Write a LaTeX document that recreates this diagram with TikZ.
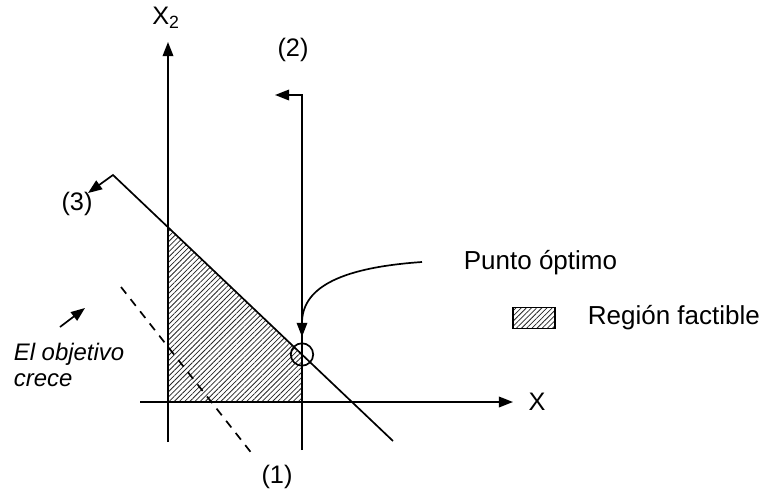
\documentclass[tikz,border=0pt]{standalone}
\usepackage{fontspec}
\setmainfont{Liberation Sans}
\usetikzlibrary{arrows.meta,patterns.meta,calc}

\begin{document}
\begin{tikzpicture}[x=0.025cm, y=-0.025cm, line width=1.2pt,
		>={Triangle[length=10pt,width=7.5pt]},
		lbl/.style={font=\fontsize{18}{21}\selectfont, inner sep=0pt},
		txt/.style={font=\fontsize{18.5}{22}\selectfont, inner sep=0pt},
		hatch/.style={pattern={Lines[angle=45,distance=2.6pt,line width=0.55pt]},
			pattern color=black!85}]
	\useasboundingbox (0,0) rectangle (763,493);

	% --- Region factible ---
	\fill[hatch] (168,227.3) -- (302,354.5) -- (302,402) -- (168,402) -- cycle;

	% --- Ejes ---
	\coordinate (xL) at (140,402);
	\coordinate (xR) at (513,402);
	\coordinate (yB) at (168,442);
	\coordinate (yT) at (168,42);
	\draw[->] (xL) -- (xR);
	\draw[->] (yB) -- (yT);
	\node[lbl] (xlab) at (537,402) {X};
	\node[lbl] (ylab) at (166,18) {X\textsubscript{2}};

	% --- Restriccion (2) ---
	\coordinate (r2b) at (302,450);
	\coordinate (r2t) at (302,95);
	\coordinate (r2a) at (275,95);
	\draw[->] (r2b) -- (r2t) -- (r2a);
	\node[lbl] (lab2) at (293,50) {(2)};

	% --- Restriccion (3) ---
	\coordinate (r3b) at (393,441);
	\coordinate (r3t) at (113,175);
	\coordinate (r3a) at (88,193);
	\draw[->] (r3b) -- (r3t) -- (r3a);
	\node[lbl] (lab3) at (77,204) {(3)};

	% --- Funcion objetivo (1) ---
	\coordinate (f1t) at (121,287);
	\coordinate (f1b) at (253,455);
	\draw[dash pattern=on 6pt off 5pt] (f1t) -- (f1b);
	\node[lbl] (lab1) at (277,477) {(1)};

	% --- Punto optimo ---
	\node[draw, circle, minimum size=0.56cm, inner sep=0pt] (opt) at (302,354.5) {};
	\node[txt, anchor=west] (punto) at (463,263) {Punto óptimo};
	\coordinate (c0) at (422,262);
	\draw[->, shorten >=4pt] (c0) .. controls (335,268) and (302,290) .. (opt.north);

	% --- Leyenda ---
	\node[draw, hatch, minimum width=1.05cm, minimum height=0.52cm, inner sep=0pt,
		line width=1pt] (leg) at (534,318) {};
	\node[txt, anchor=west] (legtxt) at (587,318) {Región factible};

	% --- El objetivo crece ---
	\coordinate (ob0) at (60,327);
	\coordinate (ob1) at (85,308);
	\draw[->] (ob0) -- (ob1);
	\node[font=\fontsize{17}{18.5}\selectfont\itshape, anchor=west, align=left,
		inner sep=0pt] (crece) at (13,365) {El objetivo\\crece};
\end{tikzpicture}
\end{document}
